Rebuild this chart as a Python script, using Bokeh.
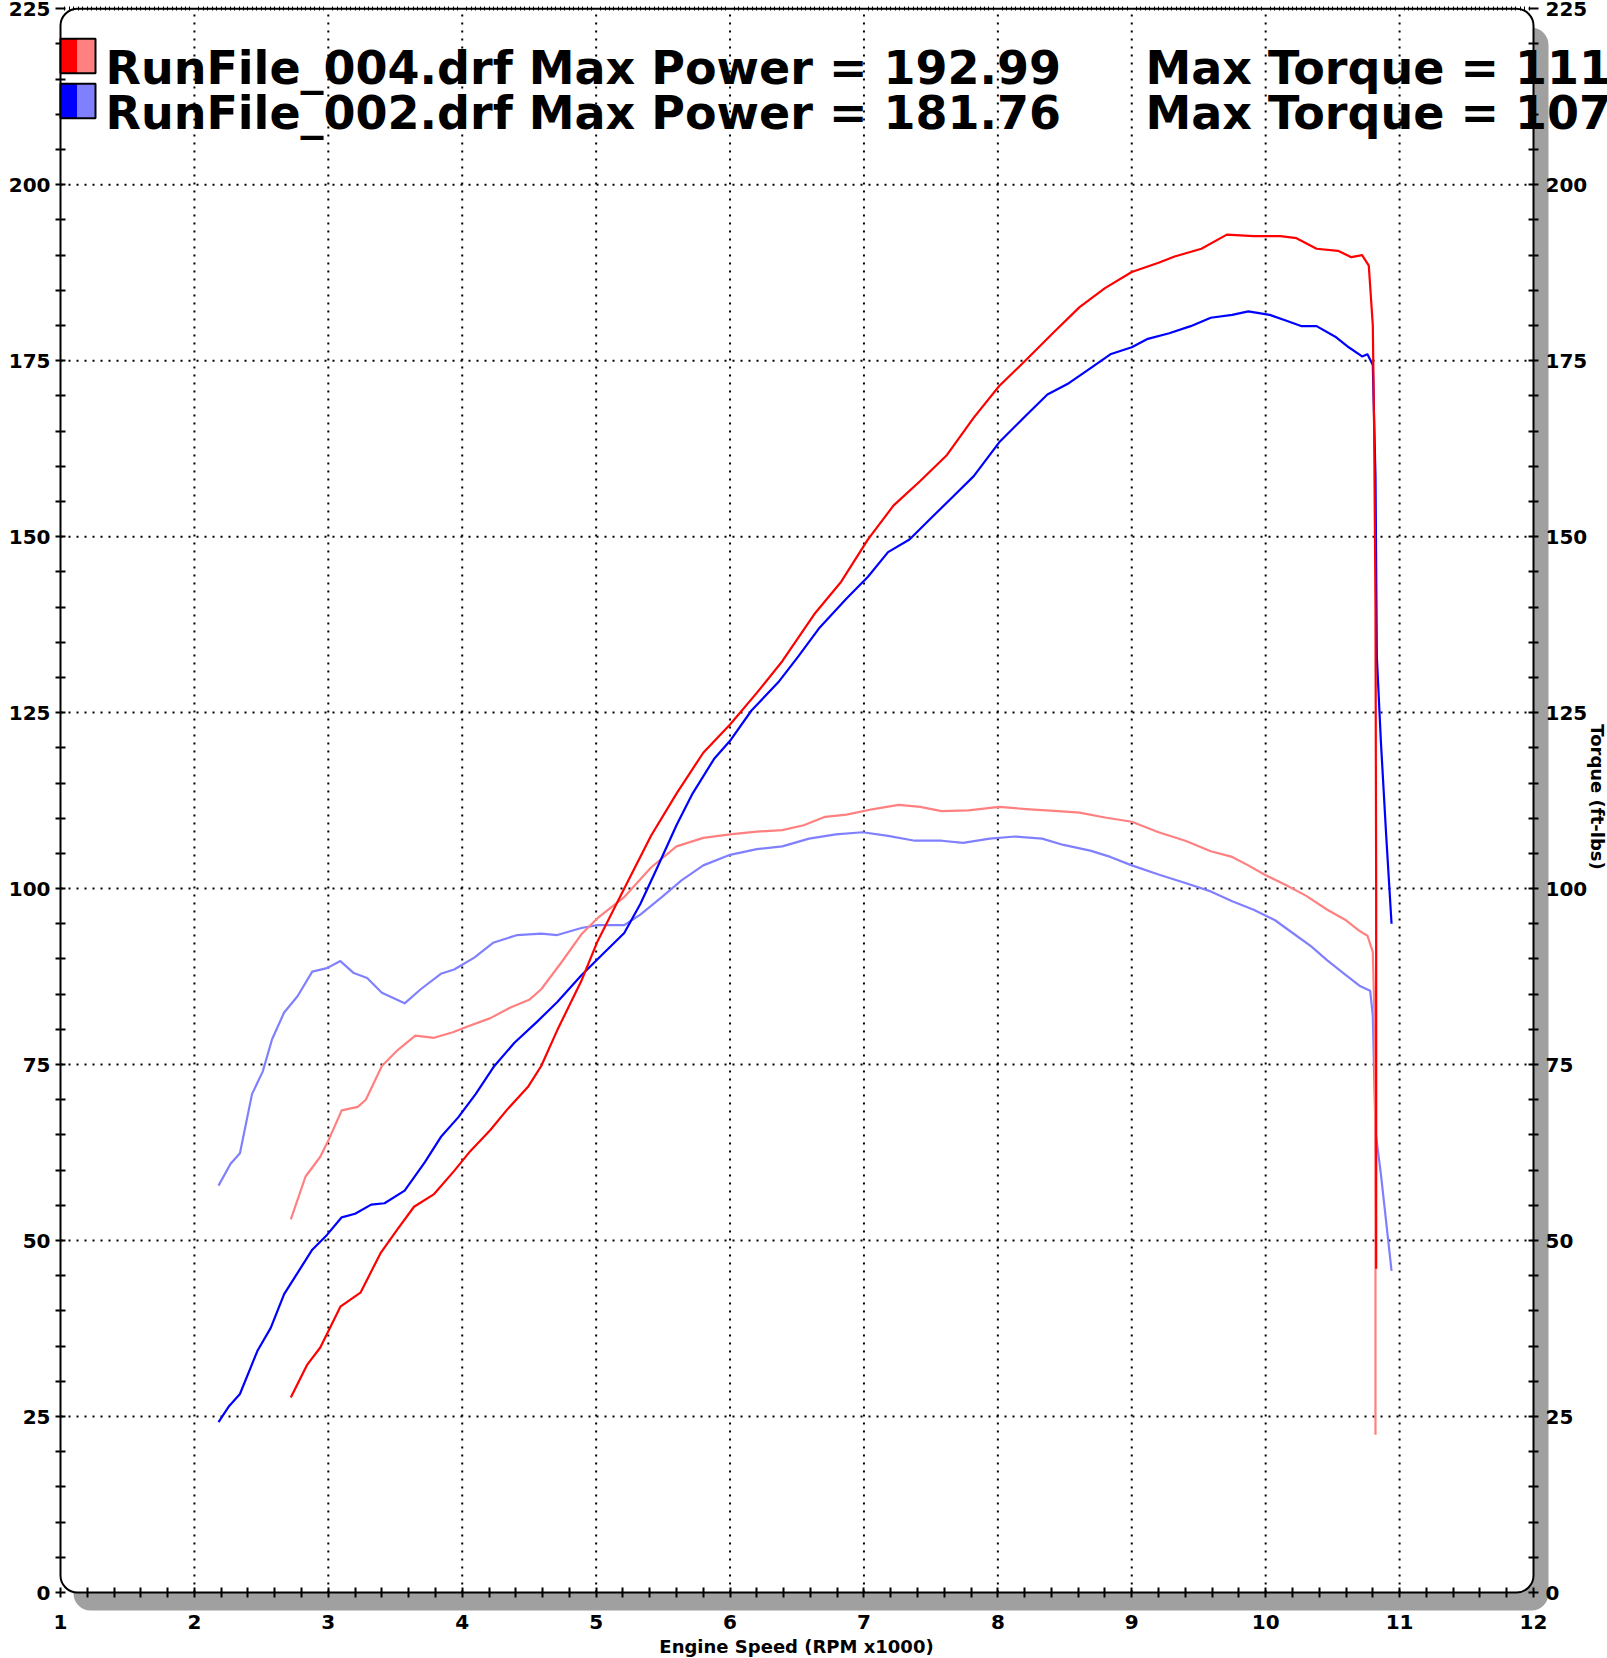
import numpy as np
from bokeh.plotting import figure
from bokeh.models import Range1d, LinearAxis, FixedTicker, BoxAnnotation, Label
from bokeh.embed import file_html
from bokeh.resources import INLINE

# ---------------- data ----------------
run_names = ["RunFile_004.drf", "RunFile_002.drf"]
max_power = [192.99, 181.76]
max_torque = ["111.95", "107.89"]
dark_colors = ["#ff0000", "#0000ff"]
light_colors = ["#ff8080", "#8080ff"]

rpm_004 = [2.72, 2.84, 2.94, 3.09, 3.24, 3.39, 3.52, 3.64, 3.79, 3.94, 4.06, 4.21, 4.34, 4.49, 4.59, 4.71,
           4.89, 5.01, 5.21, 5.41, 5.60, 5.80, 6.00, 6.20, 6.39, 6.63, 6.83, 7.03, 7.22, 7.42, 7.62, 7.82,
           8.01, 8.21, 8.41, 8.61, 8.80, 9.00, 9.20, 9.32, 9.52, 9.71, 9.91, 10.11, 10.23, 10.38, 10.54,
           10.64, 10.72, 10.77, 10.80, 10.81, 10.82, 10.825, 10.825]
hp_004 = [27.7, 32.3, 34.8, 40.6, 42.6, 48.2, 51.7, 54.8, 56.6, 59.9, 62.7, 65.7, 68.7, 71.8, 74.8, 79.9,
          86.9, 92.5, 100.0, 107.5, 113.5, 119.3, 123.3, 127.8, 132.3, 139.0, 143.6, 149.6, 154.4, 157.9,
          161.6, 166.9, 171.4, 175.1, 178.9, 182.6, 185.3, 187.6, 188.9, 189.8, 190.9, 192.9, 192.7, 192.7,
          192.4, 190.9, 190.6, 189.7, 190.0, 188.5, 180.0, 165.0, 140.0, 100.0, 46.0]

rpm_tq_004 = [2.72, 2.83, 2.94, 3.00, 3.10, 3.22, 3.28, 3.40, 3.52, 3.65, 3.79, 3.93, 4.04, 4.21, 4.36,
              4.50, 4.59, 4.74, 4.89, 5.01, 5.21, 5.41, 5.60, 5.80, 6.00, 6.20, 6.39, 6.55, 6.71, 6.87,
              7.07, 7.26, 7.42, 7.58, 7.78, 8.01, 8.21, 8.45, 8.61, 8.80, 9.00, 9.20, 9.40, 9.59, 9.75,
              9.87, 9.99, 10.15, 10.30, 10.46, 10.60, 10.70, 10.76, 10.80, 10.815, 10.82, 10.82]
tq_004 = [53.0, 59.1, 61.9, 64.2, 68.5, 69.0, 70.0, 74.8, 77.1, 79.1, 78.8, 79.6, 80.4, 81.6, 83.1,
          84.2, 85.7, 89.5, 93.5, 95.8, 98.8, 103.0, 106.0, 107.2, 107.7, 108.1, 108.3, 109.0, 110.2,
          110.5, 111.3, 111.9, 111.6, 111.0, 111.1, 111.6, 111.3, 111.0, 110.8, 110.1, 109.5, 108.0,
          106.8, 105.3, 104.5, 103.3, 102.0, 100.5, 99.0, 97.0, 95.5, 94.0, 93.3, 91.0, 80.0, 50.0, 22.4]

rpm_002 = [2.18, 2.26, 2.34, 2.47, 2.57, 2.67, 2.78, 2.88, 2.99, 3.10, 3.20, 3.32, 3.42, 3.57, 3.72,
           3.84, 3.97, 4.10, 4.24, 4.39, 4.56, 4.71, 4.89, 5.05, 5.21, 5.33, 5.45, 5.60, 5.72, 5.88,
           6.00, 6.16, 6.36, 6.51, 6.67, 6.87, 7.03, 7.18, 7.34, 7.50, 7.66, 7.82, 8.01, 8.21, 8.37,
           8.53, 8.69, 8.84, 9.00, 9.12, 9.28, 9.44, 9.59, 9.75, 9.87, 10.03, 10.15, 10.27, 10.38,
           10.52, 10.62, 10.72, 10.76, 10.80, 10.82, 10.83, 10.86, 10.90, 10.94]
hp_002 = [24.2, 26.5, 28.2, 34.3, 37.6, 42.4, 45.7, 48.7, 50.8, 53.3, 53.8, 55.1, 55.3, 57.1, 61.1,
          64.7, 67.5, 70.8, 74.8, 78.1, 81.1, 83.9, 87.7, 90.7, 93.7, 97.8, 102.7, 109.0, 113.5, 118.4,
          121.0, 125.3, 129.3, 133.0, 137.1, 141.2, 144.3, 147.8, 149.6, 152.6, 155.6, 158.6, 163.4,
          167.2, 170.2, 171.8, 173.9, 175.9, 176.9, 178.1, 178.9, 179.9, 181.1, 181.5, 182.0, 181.5,
          180.7, 179.9, 179.9, 178.4, 176.9, 175.6, 175.9, 174.4, 158.6, 133.0, 121.0, 107.5, 95.0]

rpm_tq_002 = [2.18, 2.27, 2.34, 2.43, 2.51, 2.58, 2.67, 2.77, 2.88, 2.99, 3.09, 3.19, 3.29, 3.40, 3.57,
              3.69, 3.84, 3.94, 4.09, 4.23, 4.41, 4.59, 4.71, 4.89, 5.01, 5.21, 5.33, 5.49, 5.64, 5.80,
              6.00, 6.20, 6.39, 6.59, 6.79, 6.99, 7.18, 7.38, 7.58, 7.74, 7.94, 8.13, 8.33, 8.49, 8.69,
              8.84, 9.00, 9.20, 9.40, 9.59, 9.75, 9.91, 10.07, 10.23, 10.34, 10.46, 10.58, 10.70, 10.78,
              10.80, 10.82, 10.86, 10.94]
tq_002 = [57.8, 60.9, 62.4, 70.8, 74.0, 78.6, 82.4, 84.7, 88.2, 88.7, 89.7, 88.0, 87.3, 85.2, 83.7,
          85.7, 87.9, 88.5, 90.2, 92.3, 93.4, 93.6, 93.4, 94.4, 94.8, 94.8, 96.3, 98.8, 101.2, 103.3,
          104.8, 105.6, 106.0, 107.1, 107.7, 108.0, 107.5, 106.8, 106.8, 106.5, 107.1, 107.4, 107.1,
          106.2, 105.4, 104.5, 103.3, 102.0, 100.8, 99.6, 98.2, 97.0, 95.5, 93.3, 91.8, 89.8, 88.0,
          86.2, 85.5, 82.0, 65.5, 59.5, 45.7]

x_bounds = [1, 12]
y_bounds = [0, 225]
x_labels = [1, 2, 3, 4, 5, 6, 7, 8, 9, 10, 11, 12]
y_labels = [0, 25, 50, 75, 100, 125, 150, 175, 200, 225]
grid_x = [2, 3, 4, 5, 6, 7, 8, 9, 10, 11]
grid_y = [25, 50, 75, 100, 125, 150, 175, 200]
x_title = "Engine Speed (RPM x1000)"
y2_title = "Torque (ft-lbs)"

# ---------------- layout (pixels on the canvas) ----------------
W, H = 1607, 1658
PX_L, PX_R = 60.0, 1533.0      # x = 1 and x = 12
PX_B, PX_T = 1592.0, 8.2       # y = 0 and y = 225
KX = (PX_R - PX_L) / (x_bounds[1] - x_bounds[0])
KY = (PX_B - PX_T) / (y_bounds[1] - y_bounds[0])
BASE_SHIFT = 0.34              # observed offset of the alphabetic baseline, in em

def sx(px):
    return x_bounds[0] + (px - PX_L) / KX

def sy(py):
    return y_bounds[0] + (PX_B - py) / KY

FONT = "DejaVu Sans"

p = figure(width=W, height=H, x_range=Range1d(sx(0), sx(W)), y_range=Range1d(sy(H), sy(0)),
           output_backend="svg", toolbar_location=None, min_border=0,
           min_border_left=0, min_border_right=0, min_border_top=0, min_border_bottom=0,
           background_fill_color="white", border_fill_color="white", outline_line_color=None)
p.xgrid.visible = False
p.ygrid.visible = False

# shadow and rounded frame
shadow = BoxAnnotation(left=sx(PX_L + 13), right=sx(PX_R + 15), top=sy(PX_T + 19), bottom=sy(PX_B + 18),
                       fill_color="#a0a0a0", fill_alpha=1.0, line_color=None,
                       border_radius=17, level="underlay")
frame_box = BoxAnnotation(left=x_bounds[0], right=x_bounds[1], bottom=y_bounds[0], top=y_bounds[1],
                          fill_color="white", fill_alpha=1.0, line_color="black", line_alpha=1.0,
                          line_width=2, border_radius=17, level="underlay")
p.add_layout(shadow)
p.add_layout(frame_box)

# dotted grid lines
p.segment(x0=grid_x, y0=[y_bounds[0]] * len(grid_x), x1=grid_x, y1=[y_bounds[1]] * len(grid_x),
          line_color="black", line_width=2, line_dash="2 6")
p.segment(x0=[x_bounds[0]] * len(grid_y), y0=grid_y, x1=[x_bounds[1]] * len(grid_y), y1=grid_y,
          line_color="black", line_width=2, line_dash="2 6")

def minor_between(majors, step):
    out = []
    for a, b in zip(majors[:-1], majors[1:]):
        out += list(np.round(np.arange(a + step, b - step / 2, step), 4))
    return out

def style_axis(ax):
    ax.axis_line_color = None
    ax.major_tick_in = 5
    ax.major_tick_out = 5
    ax.minor_tick_in = 5
    ax.minor_tick_out = 5
    ax.major_tick_line_width = 2
    ax.minor_tick_line_width = 2
    ax.major_tick_line_color = "black"
    ax.minor_tick_line_color = "black"
    ax.major_label_text_font = FONT
    ax.major_label_text_font_style = "bold"
    ax.major_label_text_font_size = "20px"
    ax.major_label_text_color = "black"

xt = FixedTicker(ticks=x_labels, minor_ticks=minor_between(x_labels, 0.2))
yt = FixedTicker(ticks=y_labels, minor_ticks=minor_between(y_labels, 5))

bottom = p.xaxis[0]
style_axis(bottom)
bottom.ticker = xt
bottom.bounds = tuple(x_bounds)
bottom.fixed_location = y_bounds[0]
bottom.major_label_standoff = 17

left = p.yaxis[0]
style_axis(left)
left.ticker = yt
left.bounds = tuple(y_bounds)
left.fixed_location = x_bounds[0]
left.major_label_standoff = 5

right = LinearAxis(fixed_location=x_bounds[1], bounds=tuple(y_bounds))
style_axis(right)
right.ticker = FixedTicker(ticks=y_labels, minor_ticks=minor_between(y_labels, 5))
right.major_label_standoff = 7
p.add_layout(right, "right")

top = LinearAxis(fixed_location=y_bounds[1], bounds=tuple(x_bounds))
top.ticker = FixedTicker(ticks=[], minor_ticks=minor_between(x_labels, 1 / 30))
top.axis_line_color = None
top.minor_tick_in = 2
top.minor_tick_out = 2
top.minor_tick_line_width = 1
top.minor_tick_line_color = "black"
p.add_layout(top, "above")

# curves
p.line(rpm_tq_002, tq_002, line_color=light_colors[1], line_width=2.2, line_join="round")
p.line(rpm_tq_004, tq_004, line_color=light_colors[0], line_width=2.2, line_join="round")
p.line(rpm_002, hp_002, line_color=dark_colors[1], line_width=2.2, line_join="round")
p.line(rpm_004, hp_004, line_color=dark_colors[0], line_width=2.2, line_join="round")

# legend: swatches and text
sw_top = [38.3, 83.3]
sw_h = 34.5
for i in range(2):
    t = sy(sw_top[i])
    b = sy(sw_top[i] + sw_h)
    p.add_layout(BoxAnnotation(left=sx(60), right=sx(77), top=t, bottom=b, fill_color=dark_colors[i],
                               fill_alpha=1.0, line_color=None))
    p.add_layout(BoxAnnotation(left=sx(77), right=sx(95), top=t, bottom=b, fill_color=light_colors[i],
                               fill_alpha=1.0, line_color=None))
    p.add_layout(BoxAnnotation(left=sx(60), right=sx(95), top=t, bottom=b, fill_color=None, fill_alpha=0,
                               line_color="black", line_alpha=1.0, line_width=2))

LEG_FS = 46
base = [83.3, 128.3]
for i in range(2):
    yb = sy(base[i] - BASE_SHIFT * LEG_FS)
    p.add_layout(Label(x=sx(105), y=yb, text=f"{run_names[i]} Max Power = {max_power[i]:.2f}",
                       text_font=FONT, text_font_style="bold", text_font_size=f"{LEG_FS}px",
                       text_color="black", text_baseline="alphabetic", text_align="left"))
    p.add_layout(Label(x=sx(1145), y=yb, text=f"Max Torque = {max_torque[i]}",
                       text_font=FONT, text_font_style="bold", text_font_size=f"{LEG_FS}px",
                       text_color="black", text_baseline="alphabetic", text_align="left"))

# axis titles
TFS = 18
p.add_layout(Label(x=sx(796), y=sy(1652.5 - BASE_SHIFT * TFS), text=x_title,
                   text_font=FONT, text_font_style="bold", text_font_size=f"{TFS}px",
                   text_align="center", text_baseline="alphabetic", text_color="black"))
p.add_layout(Label(x=sx(1591 + BASE_SHIFT * TFS), y=sy(796.5), text=y2_title, angle=-np.pi / 2,
                   text_font=FONT, text_font_style="bold", text_font_size=f"{TFS}px",
                   text_align="center", text_baseline="alphabetic", text_color="black"))

open("out.html", "w").write(file_html(p, INLINE))
